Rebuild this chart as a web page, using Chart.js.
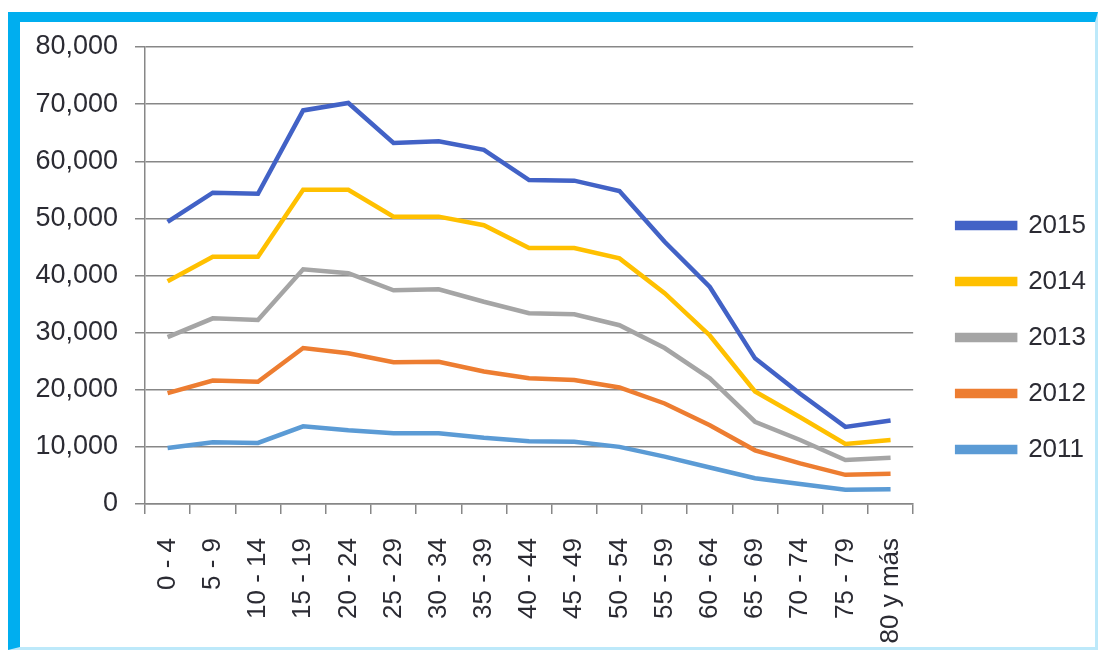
<!DOCTYPE html>
<html>
<head>
<meta charset="utf-8">
<script src="https://cdn.jsdelivr.net/npm/chart.js@4"></script>
<style>
  html, body { margin: 0; padding: 0; background: #fff; }
  .wrap { position: relative; width: 1102px; height: 653px; overflow: hidden; }
  .wrap canvas { position: absolute; left: 0; top: 0; }
  .frame {
    position: absolute; left: 8px; top: 12px; width: 1090px; height: 638px;
    border-left: 12px solid #00AEEF; border-top: 10px solid #00AEEF;
    border-right: 3px solid #BDE9FA; border-bottom: 3px solid #BDE9FA;
    box-sizing: border-box; pointer-events: none;
  }
</style>
</head>
<body>
<div class="wrap">
  <canvas id="chart" width="1102" height="653"></canvas>
  <div class="frame"></div>
</div>
<script>
// Age groups on the x axis
const ageGroups = ['0 - 4', '5 - 9', '10 - 14', '15 - 19', '20 - 24', '25 - 29', '30 - 34', '35 - 39',
  '40 - 44', '45 - 49', '50 - 54', '55 - 59', '60 - 64', '65 - 69', '70 - 74', '75 - 79', '80 y más'];

// Values per year
const values2015 = [49400, 54500, 54300, 68900, 70200, 63200, 63500, 62000, 56700, 56600, 54800, 45900, 38000, 25500, 19300, 13500, 14600];
const values2014 = [39000, 43300, 43300, 55000, 55000, 50300, 50300, 48800, 44800, 44800, 43000, 36900, 29500, 19700, 15200, 10500, 11200];
const values2013 = [29200, 32500, 32200, 41100, 40400, 37400, 37600, 35400, 33400, 33200, 31300, 27300, 22000, 14400, 11200, 7700, 8100];
const values2012 = [19400, 21600, 21400, 27300, 26400, 24800, 24900, 23200, 22000, 21700, 20400, 17600, 13800, 9400, 7100, 5100, 5300];
const values2011 = [9800, 10800, 10700, 13600, 12900, 12400, 12400, 11600, 11000, 10900, 10000, 8300, 6400, 4500, 3500, 2500, 2600];

const yearLabels = ['2015', '2014', '2013', '2012', '2011'];
const yearColors = ['#4262C6', '#FFC000', '#A5A5A5', '#ED7D31', '#5B9BD5'];
const yearValues = [values2015, values2014, values2013, values2012, values2011];

const yTickValues = [0, 10000, 20000, 30000, 40000, 50000, 60000, 70000, 80000];

const axisGray = '#878787';
const textColor = '#2b2b33';
const fontFamily = '"Liberation Sans", Arial, sans-serif';

const datasets = yearLabels.map((label, i) => ({
  label: label,
  data: yearValues[i],
  borderColor: yearColors[i],
  backgroundColor: yearColors[i],
  borderWidth: 4.5,
  tension: 0,
  fill: false,
  pointRadius: 0,
  pointHoverRadius: 0
}));

// nudge the legend box a bit right and up, like the Excel original
const legendNudge = {
  id: 'legendNudge',
  afterLayout(chart) {
    const legend = chart.legend;
    if (!legend) return;
    legend.left += 14;
    legend.right += 14;
    legend.top -= 8;
    legend.bottom -= 8;
  }
};

new Chart(document.getElementById('chart'), {
  type: 'line',
  data: { labels: ageGroups, datasets: datasets },
  options: {
    responsive: false,
    animation: false,
    layout: {
      padding: { left: 20, top: 47, right: 20, bottom: 9 }
    },
    plugins: {
      legend: {
        position: 'right',
        labels: {
          boxWidth: 58,
          boxHeight: 5,
          padding: 30,
          color: textColor,
          font: { family: fontFamily, size: 26 }
        }
      },
      tooltip: { enabled: false }
    },
    scales: {
      x: {
        offset: true,
        grid: {
          offset: true,
          drawOnChartArea: false,
          drawTicks: true,
          tickLength: 10,
          color: axisGray,
          lineWidth: 1.5
        },
        border: { display: true, color: axisGray, width: 1.5 },
        ticks: {
          autoSkip: false,
          minRotation: 90,
          maxRotation: 90,
          padding: 24,
          color: textColor,
          font: { family: fontFamily, size: 26 }
        },
        afterFit: (scale) => { scale.height = 140; }
      },
      y: {
        min: 0,
        max: 80000,
        afterBuildTicks: (scale) => { scale.ticks = yTickValues.map(v => ({ value: v })); },
        grid: {
          color: axisGray,
          lineWidth: 1.5,
          drawTicks: true,
          tickLength: 10
        },
        border: { display: true, color: axisGray, width: 1.5 },
        ticks: {
          padding: 17,
          color: textColor,
          font: { family: fontFamily, size: 27 },
          callback: (value) => value.toLocaleString('en-US')
        },
        afterFit: (scale) => { scale.width = 125; }
      }
    }
  },
  plugins: [legendNudge]
});
</script>
</body>
</html>
